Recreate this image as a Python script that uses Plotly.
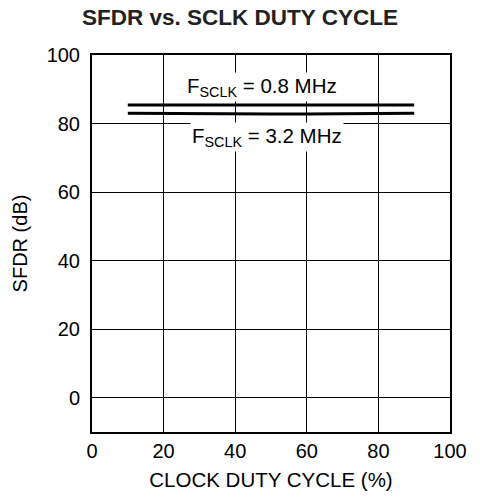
import plotly.graph_objects as go

# Clock duty cycle (%) and measured SFDR (dB) for two SCLK frequencies
duty_cycle = [10, 20, 30, 40, 50, 60, 70, 80, 90]
sfdr_08mhz = [85.4, 85.4, 85.3, 85.3, 85.2, 85.2, 85.3, 85.4, 85.4]
sfdr_32mhz = [83.0, 82.9, 82.9, 82.8, 82.8, 82.8, 82.9, 83.0, 83.0]

x_ticks = [0, 20, 40, 60, 80, 100]
y_ticks = [0, 20, 40, 60, 80, 100]

FONT = "Liberation Sans, Arial, sans-serif"

fig = go.Figure()
for ys in (sfdr_08mhz, sfdr_32mhz):
    fig.add_trace(go.Scatter(x=duty_cycle, y=ys, mode="lines",
                             line=dict(color="black", width=3),
                             showlegend=False, hoverinfo="skip"))

fig.add_annotation(x=47.5, y=90.8, xref="x", yref="y",
                   text="F<sub>SCLK</sub> = 0.8 MHz", showarrow=False,
                   bgcolor="white", font=dict(size=20.5, color="black", family=FONT))
fig.add_annotation(x=48.8, y=76.2, xref="x", yref="y",
                   text="F<sub>SCLK</sub> = 3.2 MHz", showarrow=False,
                   bgcolor="white", font=dict(size=20.5, color="black", family=FONT))

axis_common = dict(showgrid=True, gridcolor="black", gridwidth=1.2,
                   showline=True, linecolor="black", linewidth=2, mirror=True,
                   zeroline=False, ticks="", tickfont=dict(size=20, color="black", family=FONT))

fig.update_layout(
    width=480, height=500,
    margin=dict(l=92, r=30, t=55, b=68),
    paper_bgcolor="white", plot_bgcolor="white",
    title=dict(text="<b>SFDR vs. SCLK DUTY CYCLE</b>", x=0.5, xanchor="center",
               y=0.965, yanchor="middle",
               font=dict(size=22.5, color="#222", family=FONT)),
    xaxis=dict(range=[0, 100], tickvals=x_ticks,
               title=dict(text="CLOCK DUTY CYCLE (%)", standoff=12,
                          font=dict(size=20.5, color="black", family=FONT)),
               **axis_common),
    yaxis=dict(range=[-10, 100], tickvals=y_ticks, ticklabelstandoff=6,
               title=dict(text="SFDR (dB)", standoff=14,
                          font=dict(size=20, color="black", family=FONT)),
               **axis_common),
)

fig.write_html("out.html")
